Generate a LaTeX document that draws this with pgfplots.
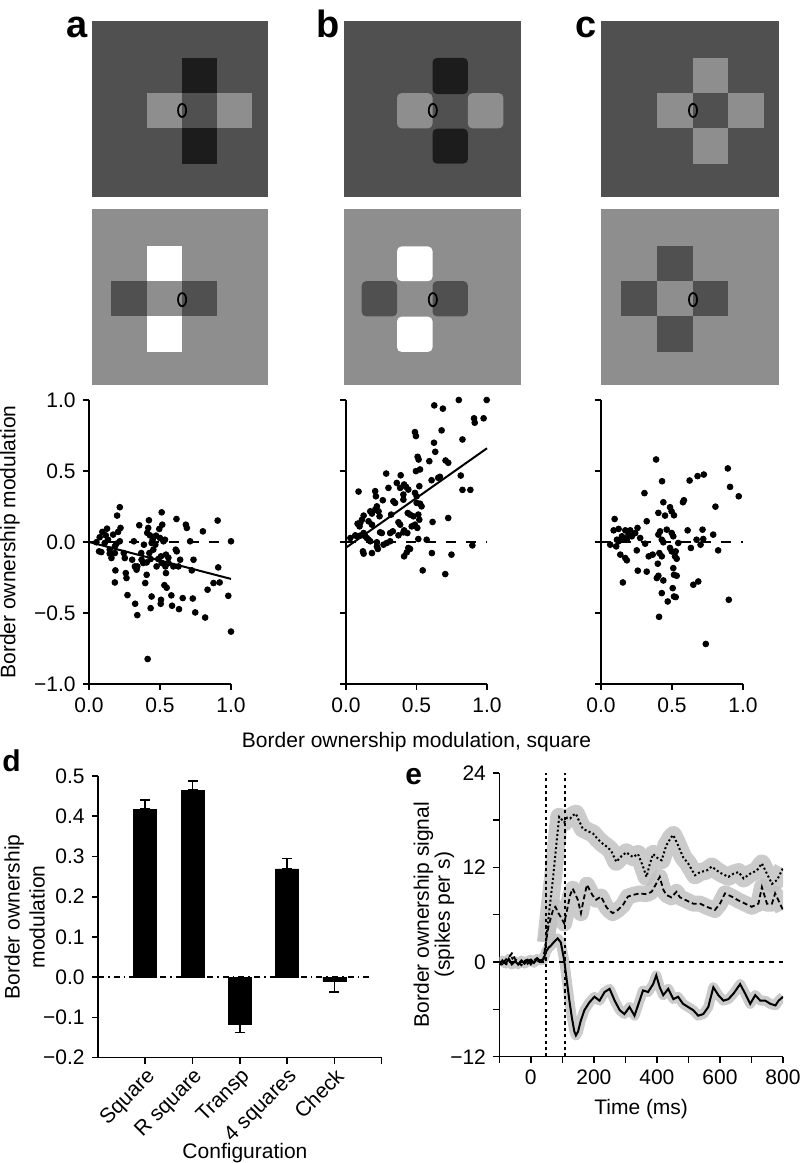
\documentclass[border=0pt]{standalone}
\usepackage{fontspec}
\setmainfont{Liberation Sans}
\usepackage{pgfplots}
\usepackage{pgfplotstable}
\pgfplotsset{compat=1.18}

\definecolor{bgdark}{HTML}{505050}
\definecolor{bglight}{HTML}{8E8E8E}
\definecolor{bardark}{HTML}{1C1C1C}
\definecolor{bandgray}{HTML}{C2C2C2}

\newcommand{\rect}[5]{\addplot[draw=none, fill=#1] coordinates {(#2,#3)(#4,#3)(#4,#5)(#2,#5)};}
\newcommand{\rrect}[6]{\addplot[draw=none, fill=#1, rounded corners=2.2pt] coordinates {(#6,#3)(#4,#3)(#4,#5)(#2,#5)(#2,#3)(#6,#3)};}

\pgfplotsset{
  stim/.style={hide axis, scale only axis, width=88pt, height=88pt, xmin=0, xmax=10, ymin=0, ymax=10, anchor=south west, clip=false},
  fix/.style={only marks, mark=o, mark size=3.3pt, mark options={xscale=0.62, line width=0.85pt, draw=black}},
  common/.style={anchor=south west, scale only axis, axis lines*=left,
    axis line style={line width=0.8pt}, tick style={line width=0.8pt, black},
    tick align=outside, major tick length=3pt,
    tick label style={font=\fontsize{10.5}{12}\selectfont},
    label style={font=\fontsize{10.5}{12.5}\selectfont}},
  sc/.style={common, width=71pt, height=142pt, xmin=0, xmax=1, ymin=-1, ymax=1,
    xtick={0,0.5,1}, xticklabels={0.0,0.5,1.0}, ytick={-1,-0.5,0,0.5,1}, clip=false},
  dots/.style={only marks, mark=*, mark size=1.45pt, black},
  zero/.style={black, line width=0.8pt, dash pattern=on 5pt off 5pt},
}

\pgfplotstableread{
x y
0.217 0.245
0.198 0.186
0.094 0.071
0.127 0.094
0.118 0.047
0.075 0.033
0.087 -0.071
0.146 -0.054
0.182 -0.031
0.170 0.052
0.205 0.071
0.222 0.099
0.217 0.005
0.193 -0.012
0.182 -0.078
0.158 -0.113
0.186 -0.200
0.182 -0.285
0.252 -0.113
0.245 -0.078
0.259 -0.219
0.264 -0.254
0.271 -0.374
0.304 -0.125
0.316 0.005
0.323 -0.172
0.335 -0.195
0.325 -0.435
0.340 -0.515
0.354 0.118
0.370 -0.125
0.387 -0.019
0.396 -0.289
0.406 -0.231
0.406 -0.144
0.422 0.153
0.417 0.099
0.410 0.064
0.429 0.047
0.425 -0.078
0.434 -0.120
0.441 -0.007
0.448 0.016
0.413 -0.824
0.434 -0.466
0.441 -0.384
0.453 -0.054
0.467 -0.019
0.472 0.045
0.495 0.092
0.512 0.209
0.516 0.122
0.500 0.028
0.524 0.005
0.507 -0.101
0.512 -0.148
0.505 -0.435
0.507 -0.407
0.535 0.016
0.542 -0.089
0.538 -0.172
0.542 -0.219
0.531 -0.304
0.547 -0.322
0.580 -0.376
0.585 -0.449
0.594 -0.172
0.616 0.162
0.618 -0.066
0.630 -0.172
0.634 -0.473
0.660 -0.395
0.682 0.122
0.689 0.099
0.712 0.005
0.724 -0.200
0.731 -0.398
0.736 -0.125
0.748 -0.496
0.802 0.075
0.818 -0.532
0.835 -0.336
0.877 -0.289
0.906 0.151
0.910 -0.179
0.920 -0.285
0.981 -0.379
1.000 0.005
1.000 -0.631
0.488 -0.120
0.476 -0.172
0.559 -0.148
0.146 -0.082
0.052 -0.002
0.071 -0.066
0.111 -0.007
0.134 0.016
0.368 -0.078
0.382 -0.148
0.340 -0.172
0.559 -0.111
0.642 -0.125
0.611 -0.054
}\scA

\pgfplotstableread{
x y
0.800 1.000
0.998 1.000
0.626 0.962
0.687 0.939
0.908 0.871
0.913 0.840
0.976 0.871
0.678 0.786
0.489 0.774
0.496 0.746
0.826 0.722
0.624 0.699
0.633 0.635
0.508 0.600
0.515 0.581
0.591 0.569
0.706 0.574
0.725 0.558
0.496 0.499
0.525 0.511
0.285 0.482
0.388 0.470
0.814 0.468
0.654 0.452
0.666 0.459
0.607 0.435
0.360 0.416
0.412 0.405
0.426 0.388
0.089 0.355
0.207 0.358
0.212 0.322
0.301 0.381
0.384 0.381
0.407 0.334
0.442 0.369
0.826 0.367
0.882 0.367
0.489 0.346
0.501 0.322
0.520 0.393
0.261 0.294
0.348 0.275
0.336 0.287
0.407 0.298
0.501 0.275
0.525 0.270
0.536 0.251
0.219 0.251
0.207 0.228
0.231 0.216
0.172 0.216
0.184 0.200
0.238 0.181
0.125 0.186
0.113 0.157
0.101 0.134
0.438 0.204
0.454 0.193
0.478 0.181
0.513 0.193
0.520 0.157
0.725 0.169
0.320 0.193
0.372 0.139
0.384 0.122
0.082 0.129
0.096 0.110
0.160 0.146
0.184 0.122
0.489 0.122
0.506 0.099
0.466 0.110
0.614 0.141
0.412 0.082
0.435 0.063
0.407 0.068
0.332 0.075
0.313 0.063
0.242 0.068
0.254 0.063
0.372 0.047
0.066 0.047
0.078 0.040
0.101 0.045
0.125 0.063
0.136 0.040
0.148 0.028
0.160 0.016
0.031 0.028
0.172 0.005
0.219 -0.002
0.266 -0.019
0.289 -0.007
0.313 0.005
0.513 0.021
0.572 0.016
0.120 -0.066
0.125 -0.082
0.184 -0.078
0.226 -0.049
0.219 -0.031
0.442 -0.042
0.431 -0.073
0.412 -0.101
0.454 -0.049
0.609 -0.078
0.748 -0.089
0.896 -0.024
0.544 -0.200
0.704 -0.226
}\scB

\pgfplotstableread{
x y
0.388 0.581
0.893 0.518
0.430 0.428
0.624 0.433
0.680 0.464
0.724 0.475
0.909 0.388
0.970 0.322
0.306 0.344
0.439 0.280
0.577 0.280
0.584 0.294
0.486 0.245
0.497 0.216
0.404 0.205
0.451 0.186
0.514 0.188
0.806 0.249
0.096 0.162
0.322 0.146
0.089 0.082
0.124 0.092
0.171 0.082
0.206 0.082
0.241 0.063
0.257 0.099
0.194 0.052
0.217 0.040
0.147 0.040
0.159 0.028
0.182 0.016
0.112 0.016
0.124 0.005
0.065 -0.019
0.107 -0.031
0.276 0.028
0.311 -0.012
0.136 -0.089
0.171 -0.113
0.182 -0.129
0.252 -0.059
0.154 -0.285
0.259 -0.202
0.322 -0.209
0.336 -0.101
0.364 -0.089
0.404 0.052
0.416 0.075
0.428 0.016
0.439 -0.002
0.411 -0.078
0.428 -0.101
0.400 -0.153
0.393 -0.254
0.404 -0.238
0.439 -0.271
0.428 -0.360
0.409 -0.527
0.463 0.087
0.470 -0.419
0.498 0.063
0.509 0.040
0.486 -0.042
0.498 -0.066
0.505 -0.325
0.514 -0.384
0.526 -0.388
0.509 -0.184
0.514 -0.231
0.533 -0.238
0.521 -0.101
0.533 -0.118
0.544 -0.007
0.526 -0.066
0.610 0.082
0.633 -0.042
0.650 -0.301
0.685 -0.278
0.673 0.016
0.701 -0.019
0.720 0.021
0.715 0.087
0.738 -0.718
0.790 0.052
0.825 -0.059
0.900 -0.407
}\scC

\pgfplotstableread{
t v
-100 -0.3
-90 0.0
-80 -0.4
-70 0.2
-60 0.5
-50 0.2
-40 -0.3
-30 0.0
-20 0.3
-10 -0.2
0 0.2
10 0.4
20 0.0
30 0.3
40 0.2
48 2.5
60 7.0
70 10.5
80 14.5
90 18.4
100 18.0
106 17.7
115 18.3
125 18.2
133 18.6
143 18.8
154 17.8
165 16.9
180 16.6
197 16.3
212 15.6
228 15.0
242 14.6
255 14.1
271 12.7
287 13.4
303 13.9
324 13.3
340 13.7
355 12.2
367 10.8
378 12.5
388 13.7
404 13.1
415 12.9
430 14.8
445 15.8
452 16.1
467 14.8
483 13.3
499 12.5
521 11.0
537 11.4
558 11.6
574 12.1
590 11.6
606 11.2
627 10.8
643 11.2
659 11.4
675 10.6
696 11.2
717 11.6
733 12.5
749 11.2
765 9.9
781 10.4
800 11.9
}\tDot

\pgfplotstableread{
t v
-100 0.1
-90 -0.4
-80 0.3
-70 0.6
-60 1.1
-50 0.4
-40 0.0
-30 -0.4
-20 0.1
-10 0.3
0 -0.3
10 0.2
20 0.5
30 0.1
40 0.4
48 2.5
56 4.5
64 5.7
72 6.8
78 7.0
86 6.3
95 5.7
106 4.9
117 7.0
125 8.5
133 9.3
141 8.6
149 7.9
159 6.2
167 7.8
178 9.8
186 9.2
195 8.5
207 7.9
223 8.3
239 7.0
250 6.5
260 6.2
276 6.6
292 7.2
308 8.3
324 8.5
345 8.7
367 8.6
383 8.9
396 9.8
409 10.8
420 9.2
430 8.5
446 8.2
462 8.9
473 8.2
494 7.8
515 7.4
537 7.4
558 7.0
584 6.6
600 7.4
616 8.7
637 8.3
659 7.8
680 7.4
701 7.0
722 7.4
733 9.5
749 7.4
765 7.4
775 8.7
800 6.6
}\tDash

\pgfplotstableread{
t v
-100 -0.4
-90 0.2
-80 -0.2
-70 0.4
-60 -0.3
-50 0.1
-40 -0.3
-30 0.2
-20 -0.2
-10 0.1
0 0.3
10 -0.1
20 0.4
30 0.2
40 0.3
48 1.3
56 1.8
64 2.1
75 2.6
85 3.0
95 2.5
106 0.2
114 -2.3
122 -4.8
130 -7.0
138 -8.8
143 -9.3
150 -8.8
158 -7.5
170 -6.1
186 -5.1
202 -4.4
218 -4.9
234 -3.8
250 -3.4
266 -4.9
282 -6.1
297 -6.6
313 -5.7
329 -6.8
345 -4.9
356 -3.6
372 -3.8
388 -2.8
398 -1.7
409 -3.2
420 -4.2
436 -3.4
452 -4.7
467 -4.4
483 -5.3
499 -5.7
515 -6.1
531 -6.8
547 -6.6
563 -5.7
579 -3.2
595 -4.2
611 -4.9
627 -4.7
643 -4.0
664 -2.8
680 -4.0
696 -5.3
712 -4.2
728 -4.9
744 -4.9
760 -5.3
776 -5.5
786 -4.9
800 -4.4
}\tSolid

\begin{document}
\fontsize{10.5}{12.5}\selectfont
\begin{tikzpicture}
\useasboundingbox (0,0) rectangle (400pt,581.5pt);

% ---------- stimuli ----------
\begin{axis}[stim, at={(46pt,483pt)}]
\rect{bgdark}{0}{0}{10}{10}
\rect{bardark}{5.1}{1.9}{7.1}{7.9}
\rect{bglight}{3.1}{3.9}{9.1}{5.9}
\rect{bgdark}{5.1}{3.9}{7.1}{5.9}
\addplot[fix] coordinates {(5.12,4.92)};
\end{axis}
\begin{axis}[stim, at={(46pt,389pt)}]
\rect{bglight}{0}{0}{10}{10}
\rect{white}{3.1}{1.9}{5.1}{7.9}
\rect{bgdark}{1.1}{3.9}{7.1}{5.9}
\rect{bglight}{3.1}{3.9}{5.1}{5.9}
\addplot[fix] coordinates {(5.12,4.85)};
\end{axis}
\begin{axis}[stim, width=88.5pt, at={(172pt,483pt)}]
\rect{bgdark}{0}{0}{10}{10}
\rrect{bardark}{5.0}{5.85}{7.0}{7.9}{6.0}
\rrect{bardark}{5.0}{1.9}{7.0}{3.88}{6.0}
\rrect{bglight}{3.0}{3.9}{5.0}{5.9}{4.0}
\rrect{bglight}{7.0}{3.9}{9.0}{5.9}{8.0}
\addplot[fix] coordinates {(5.02,4.92)};
\end{axis}
\begin{axis}[stim, width=88.5pt, at={(172pt,389pt)}]
\rect{bglight}{0}{0}{10}{10}
\rrect{white}{3.0}{5.9}{5.0}{7.87}{4.0}
\rrect{white}{3.0}{1.88}{5.0}{3.88}{4.0}
\rrect{bgdark}{1.0}{3.9}{3.0}{5.9}{2.0}
\rrect{bgdark}{5.0}{3.9}{7.0}{5.9}{6.0}
\addplot[fix] coordinates {(5.02,4.85)};
\end{axis}
\begin{axis}[stim, width=89pt, at={(300.5pt,483pt)}]
\rect{bgdark}{0}{0}{10}{10}
\rect{bglight}{5.15}{5.9}{7.15}{7.9}
\rect{bglight}{3.15}{3.9}{5.15}{5.9}
\rect{bglight}{7.15}{3.9}{9.15}{5.9}
\rect{bglight}{5.15}{1.9}{7.15}{3.9}
\addplot[fix] coordinates {(5.17,4.92)};
\end{axis}
\begin{axis}[stim, width=89pt, at={(300.5pt,389pt)}]
\rect{bglight}{0}{0}{10}{10}
\rect{bgdark}{3.15}{5.9}{5.15}{7.9}
\rect{bgdark}{1.15}{3.9}{3.15}{5.9}
\rect{bgdark}{5.15}{3.9}{7.15}{5.9}
\rect{bgdark}{3.15}{1.9}{5.15}{3.9}
\addplot[fix] coordinates {(5.17,4.85)};
\end{axis}

% ---------- scatter plots ----------
\begin{axis}[sc, at={(44.5pt,239.5pt)},
  yticklabels={−1.0,−0.5,0.0,0.5,1.0},
  ylabel={Border ownership modulation}]
\addplot[zero] coordinates {(0,0)(1,0)};
\addplot[dots] table[x=x,y=y] {\scA};
\addplot[black, line width=1pt] coordinates {(0,0)(1,-0.26)};
\end{axis}

\begin{axis}[sc, at={(173pt,239.5pt)}, width=70.5pt,
  yticklabels={,,,,},
  xlabel={Border ownership modulation, square},
  xlabel style={yshift=-3pt}]
\addplot[zero] coordinates {(0,0)(1,0)};
\addplot[dots] table[x=x,y=y] {\scB};
\addplot[black, line width=1pt] coordinates {(0,-0.04)(1,0.66)};
\end{axis}

\begin{axis}[sc, at={(300.5pt,239.5pt)},
  yticklabels={,,,,}]
\addplot[zero] coordinates {(0,0)(1,0)};
\addplot[dots] table[x=x,y=y] {\scC};
\end{axis}

% ---------- bar chart d ----------
\begin{axis}[common, at={(49pt,52.65pt)}, width=141.85pt, height=140.85pt,
  xmin=0, xmax=6, ymin=-0.2, ymax=0.5,
  xtick={1,2,3,4,5,6}, xticklabels={Square,R square,Transp,4 squares,Check,},
  xticklabel style={rotate=45, anchor=north east, inner sep=1pt},
  ytick={-0.2,-0.1,0,0.1,0.2,0.3,0.4,0.5},
  yticklabels={−0.2,−0.1,0.0,0.1,0.2,0.3,0.4,0.5},
  ylabel={Border ownership\\modulation},
  ylabel style={align=center, at={(axis description cs:-0.259,0.5)}, anchor=center},
  xlabel={Configuration},
  xlabel style={at={(axis description cs:0.518,-0.338)}, anchor=center}]
\addplot[black, line width=0.8pt, dash pattern=on 3pt off 2pt on 0.8pt off 2pt] coordinates {(0,0)(5.75,0)};
\addplot[ybar, bar width=11.5pt, fill=black, draw=black,
  error bars/.cd, y dir=both, y explicit,
  error bar style={line width=0.8pt, black},
  error mark options={rotate=90, mark size=2.5pt, line width=0.8pt, black}]
  coordinates {
  (1,0.418) += (0,0.022) -= (0,0)
  (2,0.465) += (0,0.022) -= (0,0)
  (3,-0.117) += (0,0) -= (0,0.020)
  (4,0.269) += (0,0.026) -= (0,0)
  (5,-0.011) += (0,0) -= (0,0.026)
  };
\end{axis}

% ---------- time course e ----------
\begin{axis}[common, at={(249.65pt,53.15pt)}, width=141.85pt, height=142pt,
  xmin=-100, xmax=800, ymin=-12, ymax=24,
  xtick={-100,0,100,200,300,400,500,600,700,800},
  xticklabels={,0,,200,,400,,600,,800},
  ytick={-12,-6,0,6,12,18,24}, yticklabels={−12,,0,,12,,24},
  ylabel={Border ownership signal\\(spikes per s)},
  ylabel style={align=center, font=\fontsize{10.5}{10.5}\selectfont, at={(axis description cs:-0.230,0.5)}, anchor=center},
  xlabel={Time (ms)}]
\addplot[bandgray, opacity=0.85, line width=9pt, line join=round, restrict x to domain=46:800] table[x=t,y=v] {\tDot};
\addplot[bandgray, opacity=0.85, line width=8pt, line join=round, restrict x to domain=46:800] table[x=t,y=v] {\tDash};
\addplot[bandgray, opacity=0.85, line width=5pt, line join=round] table[x=t,y=v] {\tSolid};
\addplot[black, line width=1pt, dash pattern=on 2.5pt off 2.5pt] coordinates {(-100,0)(800,0)};
\addplot[black, line width=1.2pt, dash pattern=on 1.6pt off 1.6pt] coordinates {(48,-12)(48,24)};
\addplot[black, line width=1.2pt, dash pattern=on 1.6pt off 1.6pt] coordinates {(108,-12)(108,24)};
\addplot[black, line width=1pt, dash pattern=on 1pt off 1.2pt] table[x=t,y=v] {\tDot};
\addplot[black, line width=0.9pt, dash pattern=on 2.5pt off 1.5pt] table[x=t,y=v] {\tDash};
\addplot[black, line width=1pt] table[x=t,y=v] {\tSolid};
\end{axis}

% ---------- panel letters ----------
\node[anchor=base west, inner sep=0pt, font=\fontsize{19}{19}\selectfont\bfseries] at (33pt,562.5pt) {a};
\node[anchor=base west, inner sep=0pt, font=\fontsize{19}{19}\selectfont\bfseries] at (158pt,562.5pt) {b};
\node[anchor=base west, inner sep=0pt, font=\fontsize{19}{19}\selectfont\bfseries] at (287.5pt,562.5pt) {c};
\node[anchor=base west, inner sep=0pt, font=\fontsize{15}{15}\selectfont\bfseries] at (1pt,195.5pt) {d};
\node[anchor=base west, inner sep=0pt, font=\fontsize{15}{15}\selectfont\bfseries] at (202.5pt,189pt) {e};
\end{tikzpicture}
\end{document}
